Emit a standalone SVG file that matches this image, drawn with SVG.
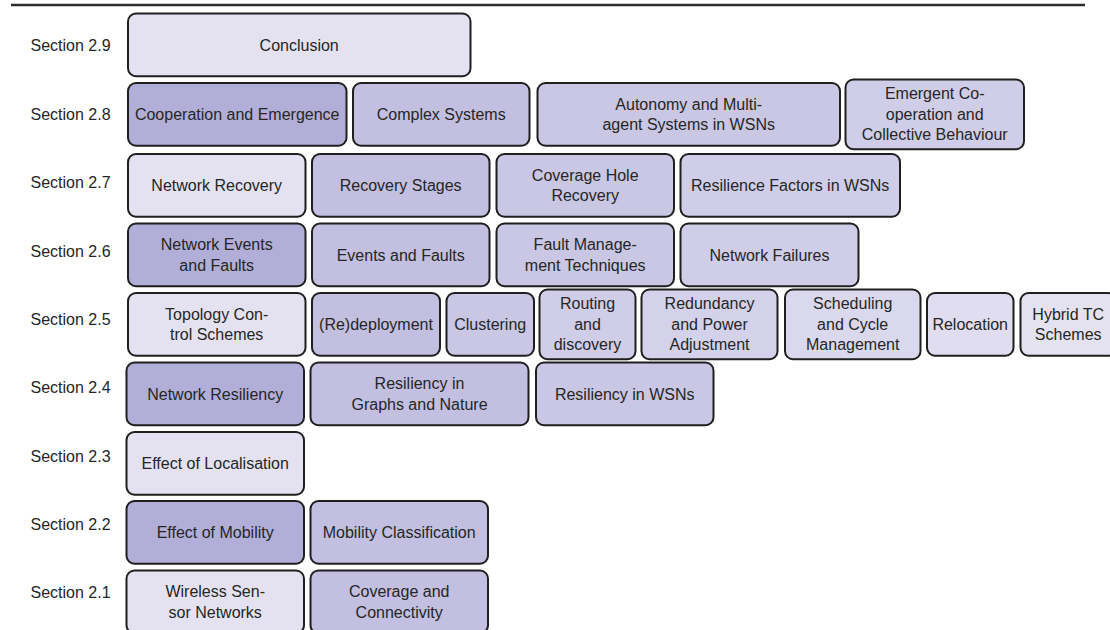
<svg xmlns="http://www.w3.org/2000/svg" width="1110" height="630" viewBox="0 0 1110 630">
  <style>
    .box { stroke: #1f1f1f; stroke-width: 2; }
    .t { font-family: "Liberation Sans", Arial, sans-serif; font-size: 16px; fill: #262626; text-anchor: middle; }
    .sec { font-family: "Liberation Sans", Arial, sans-serif; font-size: 16px; fill: #262626; }
    .l0 { fill: #e4e2f1; }
    .d  { fill: #b1afd7; }
    .m  { fill: #c2bfe0; }
    .c3 { fill: #c9c7e4; }
    .c4 { fill: #cfcde7; }
    .c5 { fill: #d4d2ea; }
    .c6 { fill: #dad8ed; }
    .c7 { fill: #dfddef; }
  </style>

  <!-- rule across the top -->
  <line x1="11" y1="5" x2="1085" y2="5" stroke="#2e2e2e" stroke-width="2.4"/>

  <!-- section labels -->
  <g id="section-labels">
    <text class="sec" x="30.5" y="51">Section 2.9</text>
    <text class="sec" x="30.5" y="119.5">Section 2.8</text>
    <text class="sec" x="30.5" y="188">Section 2.7</text>
    <text class="sec" x="30.5" y="256.5">Section 2.6</text>
    <text class="sec" x="30.5" y="325">Section 2.5</text>
    <text class="sec" x="30.5" y="393">Section 2.4</text>
    <text class="sec" x="30.5" y="461.5">Section 2.3</text>
    <text class="sec" x="30.5" y="530">Section 2.2</text>
    <text class="sec" x="30.5" y="598.3">Section 2.1</text>
  </g>

  <g id="connectors"></g>

  <!-- Section 2.9 -->
  <g id="conclusion">
    <rect class="box l0" x="128" y="13.5" width="342.5" height="62.7" rx="8"/>
    <text class="t" x="299.2" y="50.8">Conclusion</text>
  </g>

  <!-- Section 2.8 -->
  <g id="cooperation-emergence">
    <rect class="box d" x="128" y="83" width="218.5" height="62.7" rx="8"/>
    <text class="t" x="237.2" y="120.3">Cooperation and Emergence</text>
  </g>
  <g id="complex-systems">
    <rect class="box m" x="353" y="83" width="176.5" height="62.7" rx="8"/>
    <text class="t" x="441.2" y="120.3">Complex Systems</text>
  </g>
  <g id="autonomy">
    <rect class="box c3" x="537.5" y="83" width="302.5" height="62.7" rx="8"/>
    <text class="t" x="688.7" y="109.6">Autonomy and Multi-</text>
    <text class="t" x="688.7" y="130.1">agent Systems in WSNs</text>
  </g>
  <g id="emergent-cooperation">
    <rect class="box c4" x="845.5" y="79.5" width="178.5" height="69.7" rx="8"/>
    <text class="t" x="934.7" y="99.3">Emergent Co-</text>
    <text class="t" x="934.7" y="119.8">operation and</text>
    <text class="t" x="934.7" y="140.3">Collective Behaviour</text>
  </g>

  <!-- Section 2.7 -->
  <g id="network-recovery">
    <rect class="box l0" x="128" y="154" width="177.5" height="62.7" rx="8"/>
    <text class="t" x="216.7" y="191.3">Network Recovery</text>
  </g>
  <g id="recovery-stages">
    <rect class="box m" x="312" y="154" width="177.5" height="62.7" rx="8"/>
    <text class="t" x="400.7" y="191.3">Recovery Stages</text>
  </g>
  <g id="coverage-hole-recovery">
    <rect class="box c3" x="496.5" y="154" width="177.5" height="62.7" rx="8"/>
    <text class="t" x="585.2" y="180.6">Coverage Hole</text>
    <text class="t" x="585.2" y="201.1">Recovery</text>
  </g>
  <g id="resilience-factors">
    <rect class="box c4" x="680.5" y="154" width="219.5" height="62.7" rx="8"/>
    <text class="t" x="790.2" y="191.3">Resilience Factors in WSNs</text>
  </g>

  <!-- Section 2.6 -->
  <g id="network-events-faults">
    <rect class="box d" x="128" y="223.5" width="177.5" height="62.7" rx="8"/>
    <text class="t" x="216.7" y="250.1">Network Events</text>
    <text class="t" x="216.7" y="270.6">and Faults</text>
  </g>
  <g id="events-faults">
    <rect class="box m" x="312" y="223.5" width="177.5" height="62.7" rx="8"/>
    <text class="t" x="400.7" y="260.8">Events and Faults</text>
  </g>
  <g id="fault-management">
    <rect class="box c3" x="496.5" y="223.5" width="177.5" height="62.7" rx="8"/>
    <text class="t" x="585.2" y="250.1">Fault Manage-</text>
    <text class="t" x="585.2" y="270.6">ment Techniques</text>
  </g>
  <g id="network-failures">
    <rect class="box c4" x="680.5" y="223.5" width="178" height="62.7" rx="8"/>
    <text class="t" x="769.5" y="260.8">Network Failures</text>
  </g>

  <!-- Section 2.5 -->
  <g id="topology-control">
    <rect class="box l0" x="128" y="293" width="177.5" height="62.7" rx="8"/>
    <text class="t" x="216.7" y="319.6">Topology Con-</text>
    <text class="t" x="216.7" y="340.1">trol Schemes</text>
  </g>
  <g id="redeployment">
    <rect class="box m" x="312" y="293" width="128" height="62.7" rx="8"/>
    <text class="t" x="376" y="330.3">(Re)deployment</text>
  </g>
  <g id="clustering">
    <rect class="box c3" x="446.5" y="293" width="87.5" height="62.7" rx="8"/>
    <text class="t" x="490.2" y="330.3">Clustering</text>
  </g>
  <g id="routing-discovery">
    <rect class="box c4" x="539.5" y="289.5" width="96" height="69.7" rx="8"/>
    <text class="t" x="587.5" y="309.3">Routing</text>
    <text class="t" x="587.5" y="329.8">and</text>
    <text class="t" x="587.5" y="350.3">discovery</text>
  </g>
  <g id="redundancy-power">
    <rect class="box c5" x="641.5" y="289.5" width="136" height="69.7" rx="8"/>
    <text class="t" x="709.5" y="309.3">Redundancy</text>
    <text class="t" x="709.5" y="329.8">and Power</text>
    <text class="t" x="709.5" y="350.3">Adjustment</text>
  </g>
  <g id="scheduling-cycle">
    <rect class="box c6" x="785" y="289.5" width="135.5" height="69.7" rx="8"/>
    <text class="t" x="852.7" y="309.3">Scheduling</text>
    <text class="t" x="852.7" y="329.8">and Cycle</text>
    <text class="t" x="852.7" y="350.3">Management</text>
  </g>
  <g id="relocation">
    <rect class="box c7" x="927" y="293" width="86.5" height="62.7" rx="8"/>
    <text class="t" x="970.2" y="330.3">Relocation</text>
  </g>
  <g id="hybrid-tc">
    <rect class="box l0" x="1020.5" y="293" width="95.5" height="62.7" rx="8"/>
    <text class="t" x="1068.2" y="319.6">Hybrid TC</text>
    <text class="t" x="1068.2" y="340.1">Schemes</text>
  </g>

  <!-- Section 2.4 -->
  <g id="network-resiliency">
    <rect class="box d" x="126.5" y="362.5" width="177.5" height="62.7" rx="8"/>
    <text class="t" x="215.2" y="399.8">Network Resiliency</text>
  </g>
  <g id="resiliency-graphs-nature">
    <rect class="box m" x="310.5" y="362.5" width="218" height="62.7" rx="8"/>
    <text class="t" x="419.5" y="389.1">Resiliency in</text>
    <text class="t" x="419.5" y="409.6">Graphs and Nature</text>
  </g>
  <g id="resiliency-wsns">
    <rect class="box c3" x="536" y="362.5" width="177.5" height="62.7" rx="8"/>
    <text class="t" x="624.7" y="399.8">Resiliency in WSNs</text>
  </g>

  <!-- Section 2.3 -->
  <g id="effect-localisation">
    <rect class="box l0" x="126.5" y="432" width="177.5" height="62.7" rx="8"/>
    <text class="t" x="215.2" y="469.3">Effect of Localisation</text>
  </g>

  <!-- Section 2.2 -->
  <g id="effect-mobility">
    <rect class="box d" x="126.5" y="501" width="177.5" height="62.7" rx="8"/>
    <text class="t" x="215.2" y="538.3">Effect of Mobility</text>
  </g>
  <g id="mobility-classification">
    <rect class="box m" x="310.5" y="501" width="177.5" height="62.7" rx="8"/>
    <text class="t" x="399.2" y="538.3">Mobility Classification</text>
  </g>

  <!-- Section 2.1 -->
  <g id="wireless-sensor-networks">
    <rect class="box l0" x="126.5" y="570.5" width="177.5" height="62.7" rx="8"/>
    <text class="t" x="215.2" y="597.1">Wireless Sen-</text>
    <text class="t" x="215.2" y="617.6">sor Networks</text>
  </g>
  <g id="coverage-connectivity">
    <rect class="box m" x="310.5" y="570.5" width="177.5" height="62.7" rx="8"/>
    <text class="t" x="399.2" y="597.1">Coverage and</text>
    <text class="t" x="399.2" y="617.6">Connectivity</text>
  </g>
</svg>
